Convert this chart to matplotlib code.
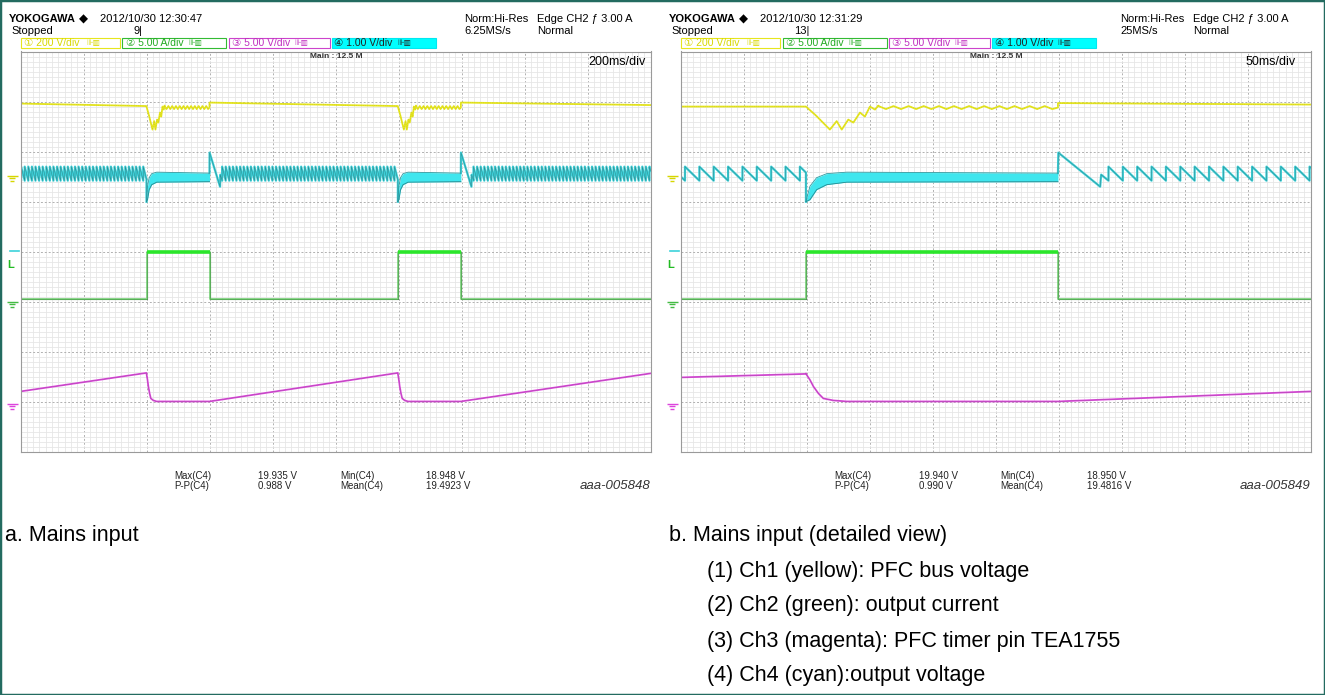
import matplotlib
matplotlib.use('Agg')
import matplotlib.pyplot as plt
import numpy as np
from matplotlib.path import Path
from matplotlib.patches import Rectangle
from matplotlib.transforms import blended_transform_factory


# ----------------------------------------------------------------------------------------
#                             DATA AREA
# trace values are screen divisions (+4 = top edge, -4 = bottom edge), time in ms

a_ms_div = 200
b_ms_div = 50
a_events = [400.0, 1198.0]          # start of each Ch2 current burst
b_events = [99.4]
burst_len = 200.0

# Ch1 yellow - PFC bus voltage
a_yellow_idle_t = [(0, 400), (600, 1198), (1398, 2000)]
a_yellow_idle_v = [(2.96, 2.91), (2.98, 2.91), (2.98, 2.93)]
b_yellow_idle_t = [(0, 99.4), (299.4, 500)]
b_yellow_idle_v = [(2.90, 2.90), (2.97, 2.94)]
dip_t = [0, 8, 19, 24.4, 28.4, 33.6, 37.6, 42.9, 46.8, 50.8, 54.8, 57.5]   # from burst start
dip_v = [2.90, 2.72, 2.44, 2.61, 2.44, 2.64, 2.58, 2.78, 2.70, 2.90, 2.84, 2.92]
bus_wiggle_period = 12.0
bus_wiggle_hi = 2.91
bus_wiggle_lo = 2.85

# Ch4 cyan - output voltage
ripple_period = 11.4
ripple_hi = 1.70
ripple_lo = 1.42
a_ripple_first = 2.0
b_ripple_first = 3.4
band_t = [0, 3.2, 8.5, 16.5, 32.4, 200]          # from burst start
band_top = [1.0, 1.31, 1.48, 1.56, 1.59, 1.57]
band_bot = [1.0, 1.04, 1.24, 1.34, 1.39, 1.40]
recov_t = [0, 0.3, 33.5, 34.3, 40.1]             # from burst end
recov_v = [1.57, 1.98, 1.30, 1.54, 1.42]

# Ch2 green - output current
green_lo = -0.95
green_hi = 0.0

# Ch3 magenta - PFC timer pin
a_mag_idle_t = [(0, 400), (600, 1198), (1398, 2000)]
a_mag_idle_v = [(-2.79, -2.42), (-2.99, -2.42), (-2.99, -2.43)]
b_mag_idle_t = [(0, 99.4), (299.4, 500)]
b_mag_idle_v = [(-2.51, -2.44), (-2.99, -2.79)]
fall_t = [0, 0.6, 3.2, 5.9, 9.9, 13.8, 21.8, 32.4, 200]   # from burst start
fall_v = [-2.43, -2.46, -2.56, -2.69, -2.83, -2.93, -2.97, -2.99, -2.99]

# markers left of the screen
gnd_levels = [1.52, -1.0, -3.04]
gnd_colors = ['#d6d600', '#44bb44', '#dd44dd']
ch4_mark = 0.02
trig_mark = -0.27

# texts
a_stamp, b_stamp = '2012/10/30 12:30:47', '2012/10/30 12:31:29'
a_count, b_count = '9', '13'
a_rate, b_rate = '6.25MS/s', '25MS/s'
a_tdiv, b_tdiv = '200ms/div', '50ms/div'
ch_labels = ['\u2460 200 V/div', '\u2461 5.00 A/div', '\u2462 5.00 V/div', '\u2463 1.00 V/div']
stat_names = [('Max(C4)', 'P-P(C4)'), ('Min(C4)', 'Mean(C4)')]
a_stats = [('19.935 V', '0.988 V'), ('18.948 V', '19.4923 V')]
b_stats = [('19.940 V', '0.990 V'), ('18.950 V', '19.4816 V')]
a_tag, b_tag = 'aaa-005848', 'aaa-005849'
a_caption = 'a. Mains input'
b_caption = 'b. Mains input (detailed view)'
legend_lines = ['(1) Ch1 (yellow): PFC bus voltage',
                '(2) Ch2 (green): output current',
                '(3) Ch3 (magenta): PFC timer pin TEA1755',
                '(4) Ch4 (cyan):output voltage']


# ----------------------------------------------------------------------------------------
#                             HELPERS

W, H = 1325, 695
SCOPE = ['Liberation Sans', 'DejaVu Sans', 'Noto Sans CJK JP']
SANS = ['Liberation Sans', 'DejaVu Sans']


def fx(x):
    return x / W


def fy(y):
    return 1 - y / H


def sawtooth(t0, t1, first, period, hi, lo):
    # sharp rise at every period, linear decay in between
    def level(t):
        k = np.floor((t - first) / period)
        return hi - (hi - lo) * ((t - first) - k * period) / period
    ts, vs = [], []
    if first > t0:
        ts.append(t0)
        vs.append(level(t0))
    for r in np.arange(first, t1, period):
        ts += [r, r]
        vs += [lo, hi]
    ts.append(t1)
    vs.append(level(t1))
    return ts, vs


def zigzag(t0, t1, period, hi, lo):
    ts = list(np.arange(t0, t1, period / 2))
    vs = [hi if i % 2 == 0 else lo for i in range(len(ts))]
    ts.append(t1)
    vs.append((hi + lo) / 2)
    return ts, vs


def build_yellow(idle_t, idle_v, events):
    ts, vs = [], []
    for k in range(len(idle_t)):
        ts += list(idle_t[k])
        vs += list(idle_v[k])
        if k < len(events):
            s = events[k]
            ts += [s + d for d in dip_t]
            vs += dip_v
            wt, wv = zigzag(s + dip_t[-1], s + burst_len, bus_wiggle_period, bus_wiggle_hi, bus_wiggle_lo)
            ts += wt
            vs += wv
    return ts, vs


def build_magenta(idle_t, idle_v, events):
    ts, vs = [], []
    for k in range(len(idle_t)):
        ts += list(idle_t[k])
        vs += list(idle_v[k])
        if k < len(events):
            ts += [events[k] + d for d in fall_t]
            vs += fall_v
    return ts, vs


def build_green(events, t_end):
    ts, vs = [0], [green_lo]
    for s in events:
        ts += [s, s, s + burst_len, s + burst_len]
        vs += [green_lo, green_hi, green_hi, green_lo]
    ts.append(t_end)
    vs.append(green_lo)
    return ts, vs


# ground marker glyph
gnd_marker = Path([(-1.0, 0.0), (1.3, 0.0), (-0.7, -0.5), (0.7, -0.5), (-0.4, -1.0), (0.4, -1.0)],
                  [Path.MOVETO, Path.LINETO, Path.MOVETO, Path.LINETO, Path.MOVETO, Path.LINETO])


# ----------------------------------------------------------------------------------------
#                             PLOTTING AREA

def draw_screen(ax, ms_div, events, yellow_t, yellow_v, mag_t, mag_v, ripple_first):
    t_end = 10 * ms_div
    ax.set_xlim(0, t_end)
    ax.set_ylim(-4, 4)
    ax.set_xticks(np.arange(0, t_end + 1, ms_div))
    ax.set_xticks(np.arange(0, t_end + 1, ms_div / 10), minor=True)
    ax.set_yticks(np.arange(-4, 5, 1))
    ax.set_yticks(np.arange(-4, 4.01, 0.1), minor=True)
    ax.grid(which='minor', color='#e6e6e6', lw=0.6, ls='-')
    ax.grid(which='major', color='#b0b0b0', lw=0.7, ls=(0, (2, 2)))
    ax.tick_params(which='both', length=0, labelbottom=False, labelleft=False)
    ax.set_axisbelow(True)
    for sp in ax.spines.values():
        sp.set_color('#9a9a9a')
        sp.set_linewidth(0.8)

    # Ch1 yellow
    ax.plot(yellow_t, yellow_v, color='#e6e61e', lw=1.3)
    ax.plot(yellow_t, yellow_v, color='#8f8f30', lw=0.4, alpha=0.5, ls=(0, (1, 3)))

    # Ch4 cyan: ripple, burst band, recovery
    starts = [0.0] + [s + burst_len + recov_t[-1] for s in events]
    firsts = [ripple_first] + starts[1:]
    stops = events + [t_end]
    for k in range(len(starts)):
        ct, cv = sawtooth(starts[k], stops[k], firsts[k], ripple_period, ripple_hi, ripple_lo)
        if k < len(events):
            ct.append(events[k])
            cv.append(band_top[0])
        if k > 0:
            e = events[k - 1] + burst_len
            ct = [e + d for d in recov_t] + ct
            cv = list(recov_v) + cv
        ax.plot(ct, cv, color='#3cd2da', lw=1.6)
        ax.plot(ct, cv, color='#2c6e72', lw=0.4, alpha=0.7)
    for s in events:
        bt = [s + d for d in band_t]
        ax.fill_between(bt, band_bot, band_top, color='#3fe6ee', lw=0)
        ax.plot(bt, band_top, color='#2a9aa0', lw=0.6)
        ax.plot(bt, band_bot, color='#2a8a90', lw=0.6)

    # Ch2 green
    gt, gv = build_green(events, t_end)
    ax.plot(gt, gv, color='#3d5e3d', lw=0.8)
    ax.plot(gt, gv, color='#66cc66', lw=1.3, alpha=0.8)
    for s in events:
        ax.plot([s, s + burst_len], [green_hi, green_hi], color='#2be62b', lw=2.6, solid_capstyle='butt')

    # Ch3 magenta
    ax.plot(mag_t, mag_v, color='#e050e0', lw=1.3)
    ax.plot(mag_t, mag_v, color='#7a3a7a', lw=0.4, alpha=0.5)

    # level markers at the left edge
    tr = blended_transform_factory(ax.transAxes, ax.transData)
    for lvl, col in zip(gnd_levels, gnd_colors):
        ax.plot([-0.014], [lvl], marker=gnd_marker, markersize=9, color=col, mew=1.0,
                transform=tr, clip_on=False, ls='none')
    ax.plot([-0.017, -0.002], [ch4_mark, ch4_mark], color='#3cd2da', lw=1.2, transform=tr, clip_on=False)
    ax.text(-0.021, trig_mark, 'L', color='#22bb22', fontsize=8, fontweight='bold', transform=tr,
            va='center', ha='left', family=SANS)


def draw_texts(fig, x0, x1, stamp, count, rate, tdiv, tdiv_gap, stats, tag, norm_x, edge_x):
    dx = x0 - 20.5
    hs = 8
    fig.text(fx(9 + dx), fy(19), 'YOKOGAWA', fontsize=hs, fontweight='bold', family=SCOPE, va='center')
    fig.text(fx(79 + dx), fy(19), '\u25c6', fontsize=8.5, family=['DejaVu Sans'], va='center')
    fig.text(fx(100 + dx), fy(19), stamp, fontsize=hs, family=SCOPE, va='center')
    fig.text(fx(11 + dx), fy(31), 'Stopped', fontsize=hs, family=SCOPE, va='center')
    fig.text(fx(134 + dx), fy(31), count + '|', fontsize=hs, family=SCOPE, va='center')
    fig.text(fx(norm_x), fy(19), 'Norm:Hi-Res', fontsize=hs, family=SCOPE, va='center')
    fig.text(fx(norm_x), fy(31), rate, fontsize=hs, family=SCOPE, va='center')
    fig.text(fx(edge_x), fy(19), 'Edge CH2 \u0192 3.00 A', fontsize=hs, family=SCOPE, va='center')
    fig.text(fx(edge_x), fy(31), 'Normal', fontsize=hs, family=SCOPE, va='center')

    # channel setting boxes
    box_x = [(0, 99), (102, 206), (208, 309), (311, 415)]
    edge_cols = ['#e6e61e', '#33bb33', '#cc44cc', '#00e8f0']
    text_cols = ['#d8d800', '#22aa22', '#c030c0', '#222222']
    faces = ['white', 'white', 'white', '#00ffff']
    for (l, r), ec, tc, fc, lab in zip(box_x, edge_cols, text_cols, faces, ch_labels):
        fig.patches.append(Rectangle((fx(x0 + l), fy(48)), (r - l) / W, 10 / H, transform=fig.transFigure,
                                     facecolor=fc, edgecolor=ec, lw=0.8))
        fig.text(fx(x0 + l + 3), fy(43), lab, fontsize=7.5, color=tc, family=SCOPE, va='center')
        fig.text(fx(x0 + l + 66), fy(43), '\u22aa\u25a5', fontsize=5.5, color=tc,
                 family=['DejaVu Sans'], va='center')

    fig.text(fx(x0 + 316), fy(57), 'Main : 12.5 M', fontsize=6, fontweight='bold', family=SCOPE,
             va='center', ha='center', color='#333333')
    fig.text(fx(x1 - tdiv_gap), fy(62), tdiv, fontsize=9, family=SCOPE, va='center', ha='right')

    # measurement readout
    cols = [(154, 238), (320, 406)]
    for (lx, vx), names, vals in zip(cols, stat_names, stats):
        for row, y in enumerate([476, 486]):
            fig.text(fx(x0 + lx), fy(y), names[row], fontsize=7, family=SCOPE, va='center', color='#222222')
            fig.text(fx(x0 + vx), fy(y), vals[row], fontsize=7, family=SCOPE, va='center', color='#222222')
    fig.text(fx(x1), fy(486), tag, fontsize=9.5, style='italic', family=SANS, va='center', ha='right',
             color='#333333')


def main():
    fig = plt.figure(figsize=(W / 100, H / 100), dpi=100)
    fig.patch.set_facecolor('white')

    a_left, a_right = 20.5, 650.5
    b_left, b_right = 680.7, 1310.7
    top, bottom = 51.5, 452

    ax_a = fig.add_axes([fx(a_left), fy(bottom), (a_right - a_left) / W, (bottom - top) / H])
    ax_b = fig.add_axes([fx(b_left), fy(bottom), (b_right - b_left) / W, (bottom - top) / H])

    ya_t, ya_v = build_yellow(a_yellow_idle_t, a_yellow_idle_v, a_events)
    yb_t, yb_v = build_yellow(b_yellow_idle_t, b_yellow_idle_v, b_events)
    ma_t, ma_v = build_magenta(a_mag_idle_t, a_mag_idle_v, a_events)
    mb_t, mb_v = build_magenta(b_mag_idle_t, b_mag_idle_v, b_events)

    draw_screen(ax_a, a_ms_div, a_events, ya_t, ya_v, ma_t, ma_v, a_ripple_first)
    draw_screen(ax_b, b_ms_div, b_events, yb_t, yb_v, mb_t, mb_v, b_ripple_first)

    draw_texts(fig, a_left, a_right, a_stamp, a_count, a_rate, a_tdiv, 4.5, a_stats, a_tag, 464, 537)
    draw_texts(fig, b_left, b_right, b_stamp, b_count, b_rate, b_tdiv, 15, b_stats, b_tag, 1120, 1193)

    # captions
    fig.text(fx(5), fy(536), a_caption, fontsize=15.5, family=SANS, va='center')
    fig.text(fx(669), fy(536), b_caption, fontsize=15.5, family=SANS, va='center')
    for i, line in enumerate(legend_lines):
        fig.text(fx(707), fy(571 + 35 * i), line, fontsize=15.5, family=SANS, va='center')

    # outer frame
    fig.patches.append(Rectangle((0, 0), 1, 1, transform=fig.transFigure, fill=False,
                                 edgecolor='#236b60', lw=2.5))

    fig.savefig('out.png', dpi=100)


if __name__ == "__main__":
    main()
